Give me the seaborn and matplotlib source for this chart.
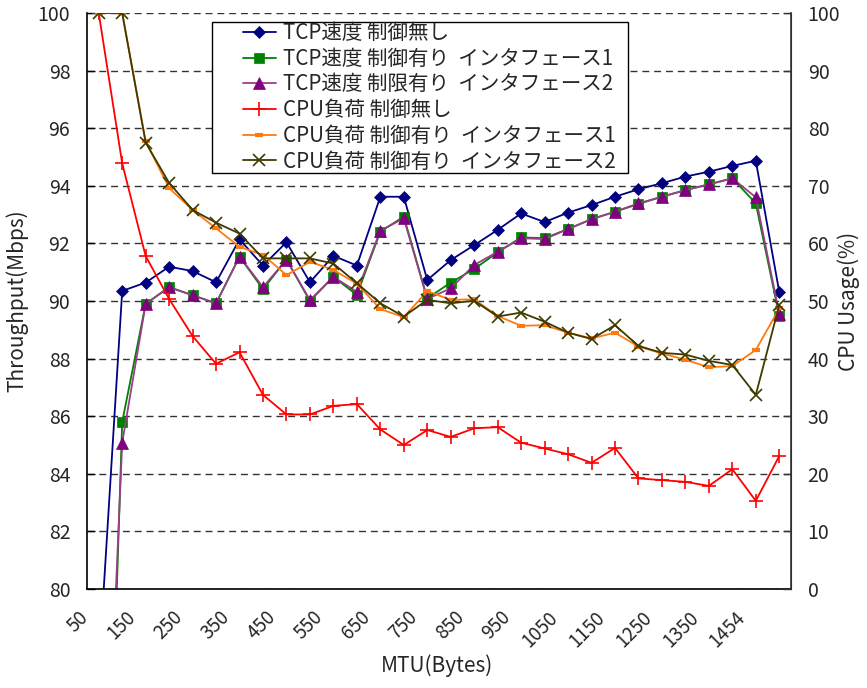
import numpy as np
import pandas as pd
import matplotlib
matplotlib.use("Agg")
import matplotlib.pyplot as plt
import matplotlib.transforms as mtransforms
from matplotlib.patches import Rectangle
import seaborn as sns

# MTU categories (bytes)
mtu = [50, 100, 150, 200, 250, 300, 350, 400, 450, 500, 550, 600, 650, 700,
       750, 800, 850, 900, 950, 1000, 1050, 1100, 1150, 1200, 1250, 1300,
       1350, 1400, 1454, 1500]

# Throughput (Mbps)
tcp_none = [77.2, 90.35, 90.64, 91.19, 91.04, 90.65, 92.14, 91.23, 92.04, 90.65,
            91.57, 91.23, 93.62, 93.62, 90.73, 91.42, 91.94, 92.47, 93.04, 92.74,
            93.07, 93.33, 93.62, 93.88, 94.09, 94.32, 94.49, 94.69, 94.87, 90.31]
tcp_if1 = [60.6, 85.80, 89.90, 90.48, 90.20, 89.92, 91.54, 90.41, 91.44, 90.00,
           90.84, 90.21, 92.41, 92.93, 90.09, 90.64, 91.11, 91.69, 92.21, 92.18,
           92.50, 92.84, 93.10, 93.37, 93.62, 93.85, 94.05, 94.26, 93.39, 89.48]
tcp_if2 = [66.0, 85.08, 89.90, 90.48, 90.20, 89.92, 91.54, 90.48, 91.44, 90.03,
           90.84, 90.32, 92.44, 92.87, 90.07, 90.44, 91.25, 91.71, 92.18, 92.15,
           92.50, 92.84, 93.10, 93.39, 93.62, 93.85, 94.05, 94.26, 93.60, 89.55]

# CPU usage (%)
cpu_none = [100.0, 73.9, 57.8, 50.35, 43.9, 39.1, 41.1, 33.7, 30.3, 30.3,
            31.8, 32.1, 27.7, 25.0, 27.6, 26.4, 27.9, 28.1, 25.4, 24.4,
            23.4, 21.9, 24.5, 19.2, 18.9, 18.6, 17.9, 20.8, 15.3, 23.1]
cpu_if1 = [100.0, 100.0, 77.7, 69.6, 65.8, 62.6, 59.4, 58.0, 54.5, 56.8,
           55.4, 53.0, 48.6, 47.2, 51.7, 50.2, 50.3, 47.4, 45.7, 45.8,
           44.5, 43.5, 44.5, 42.1, 40.9, 39.8, 38.5, 38.7, 41.5, 48.7]
cpu_if2 = [100.0, 100.0, 77.5, 70.5, 65.8, 63.6, 61.7, 57.4, 57.4, 57.4,
           56.5, 53.1, 49.6, 47.3, 50.2, 49.6, 50.05, 47.3, 48.0, 46.4,
           44.5, 43.4, 45.8, 42.2, 41.0, 40.7, 39.6, 38.9, 33.7, 49.3]

labels_tcp = ["TCP速度 制御無し",
              "TCP速度 制御有り  インタフェース1",
              "TCP速度 制限有り  インタフェース2"]
labels_cpu = ["CPU負荷 制御無し",
              "CPU負荷 制御有り  インタフェース1",
              "CPU負荷 制御有り  インタフェース2"]

sns.set_style("white")
plt.rcParams["font.family"] = ["Noto Sans CJK JP", "DejaVu Sans"]
plt.rcParams["axes.unicode_minus"] = False

fig = plt.figure(figsize=(8.67, 6.88), dpi=100)
ax = fig.add_axes([87 / 867, 1 - 589 / 688, 704 / 867, 576 / 688])
ax2 = ax.twinx()

pos = np.arange(len(mtu))

tcp_styles = [
    (tcp_none, labels_tcp[0], dict(color="#000080", marker="D", ms=6.5, mfc="#000080", mec="#000080", mew=0.5)),
    (tcp_if1, labels_tcp[1], dict(color="#008000", marker="s", ms=7, mfc="#008000", mec="#008000", mew=0.5)),
    (tcp_if2, labels_tcp[2], dict(color="#9A3E8A", marker="^", ms=8.5, mfc="#800080", mec="#800080", mew=0.5)),
]
cpu_styles = [
    (cpu_none, labels_cpu[0], dict(color="#FF0000", marker="+", ms=10, mec="#FF0000", mew=1.2)),
    (cpu_if1, labels_cpu[1], dict(color="#FF7A10", marker="_", ms=6, mec="#FF7A10", mew=3)),
    (cpu_if2, labels_cpu[2], dict(color="#3E3A00", marker="x", ms=8, mec="#3E3A00", mew=1.2)),
]

for vals, lab, st in tcp_styles:
    df = pd.DataFrame({"pos": pos, "value": vals})
    sns.lineplot(data=df, x="pos", y="value", ax=ax, label=lab, lw=1.3, legend=False, **st)
for vals, lab, st in cpu_styles:
    df = pd.DataFrame({"pos": pos, "value": vals})
    sns.lineplot(data=df, x="pos", y="value", ax=ax2, label=lab, lw=1.3, legend=False, **st)

# axes ranges
ax.set_xlim(-0.5, len(mtu) - 0.5)
ax.set_ylim(80, 100)
ax2.set_ylim(0, 100)
ax.set_yticks(np.arange(80, 101, 2))
ax2.set_yticks(np.arange(0, 101, 10))

# dashed horizontal grid
ax.yaxis.grid(True, linestyle=(0, (5, 3.5)), color="#333333", lw=1.0)
ax.xaxis.grid(False)
ax2.grid(False)
ax.set_axisbelow(True)

# category boundary ticks, labels on every second category
ax.set_xticks(np.arange(-0.5, len(mtu), 1.0))
ax.set_xticklabels([])
ax.tick_params(axis="x", which="major", direction="in", length=6, width=1, color="black")
ax.set_xticks(pos[::2], minor=True)
ax.set_xticklabels([str(m) for m in mtu[::2]], minor=True, rotation=45, ha="right",
                   fontsize=13.5)
ax.tick_params(axis="x", which="minor", length=0, pad=13)
shift = mtransforms.ScaledTranslation(-6 / 100, 0, fig.dpi_scale_trans)
for t in ax.get_xticklabels(minor=True):
    t.set_transform(t.get_transform() + shift)

ax.tick_params(axis="y", direction="in", length=6, width=1, pad=12, labelsize=14, color="black")
ax2.tick_params(axis="y", direction="in", length=6, width=1, pad=12, labelsize=14, color="#333333")

for a in (ax, ax2):
    a.spines["top"].set_visible(False)
ax.spines["left"].set_color("black")
ax.spines["bottom"].set_color("black")
ax2.spines["left"].set_visible(False)
ax2.spines["bottom"].set_visible(False)
ax2.spines["right"].set_color("#333333")
for s in ("left", "bottom"):
    ax.spines[s].set_linewidth(1.2)
ax2.spines["right"].set_linewidth(1.2)

ax.set_xlabel("MTU(Bytes)", fontsize=15)
ax.set_ylabel("Throughput(Mbps)", fontsize=15)
ax2.set_ylabel("CPU Usage(%)", fontsize=15)
ax.xaxis.set_label_coords(0.497, -0.114)
ax.yaxis.set_label_coords(-0.083, 0.5)
ax2.yaxis.set_label_coords(1.066, 0.5)

# legend with a boxed background
box = Rectangle((212 / 867, 1 - 173 / 688), 416 / 867, 151 / 688,
                transform=fig.transFigure, facecolor="white", edgecolor="black",
                lw=1.0, zorder=4)
ax2.add_patch(box)
box.set_clip_on(False)
h1, l1 = ax.get_legend_handles_labels()
h2, l2 = ax2.get_legend_handles_labels()
leg = ax2.legend(h1 + h2, l1 + l2, loc="upper left",
                 bbox_to_anchor=(243 / 867, 1 - 22 / 688),
                 bbox_transform=fig.transFigure, frameon=False, borderpad=0,
                 fontsize=14.8, handlelength=1.6, handletextpad=0.35,
                 labelspacing=0.18, borderaxespad=0)
leg.set_zorder(5)

fig.savefig("out.png", dpi=100)
